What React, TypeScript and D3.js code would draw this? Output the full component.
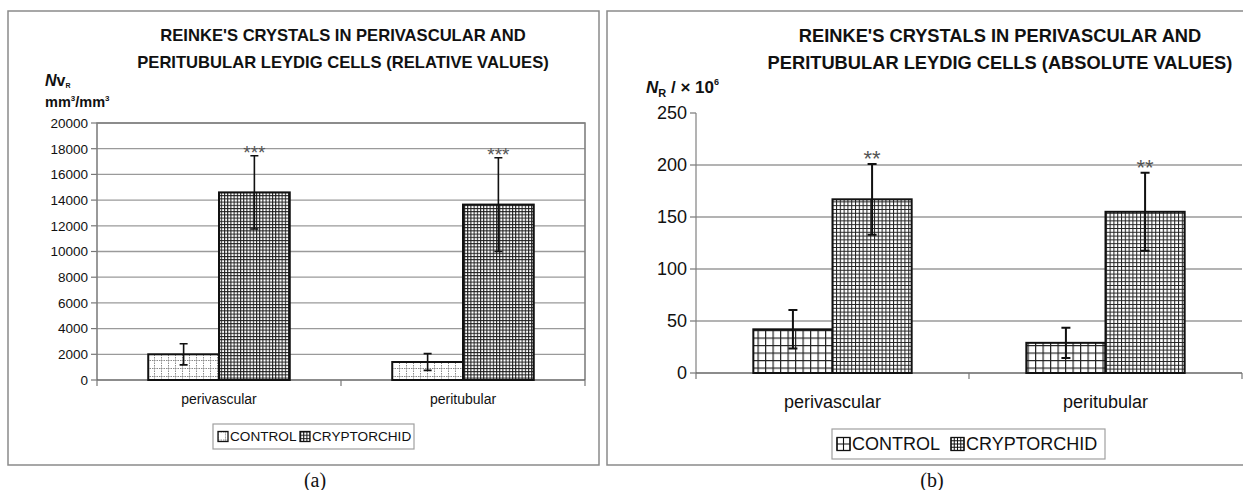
import { scaleBand, scaleLinear } from "d3";

const categories = ["perivascular", "peritubular"];
const seriesNames = ["CONTROL", "CRYPTORCHID"];

// (a) relative values, Nv_R mm3/mm3
const relativeControl = [2000, 1400];
const relativeControlErr = [820, 650];
const relativeCryptorchid = [14600, 13650];
const relativeCryptorchidErr = [2850, 3650];
const relativeStars = ["***", "***"];
const relativeTicks = [0, 2000, 4000, 6000, 8000, 10000, 12000, 14000, 16000, 18000, 20000];

// (b) absolute values, N_R x 10^6
const absoluteControl = [42, 29];
const absoluteControlErr = [18.5, 14.5];
const absoluteCryptorchid = [167, 155];
const absoluteCryptorchidErr = [34, 37.5];
const absoluteStars = ["**", "**"];
const absoluteTicks = [0, 50, 100, 150, 200, 250];

const sans = "'Liberation Sans', Arial, sans-serif";
const serif = "'Liberation Serif', 'Times New Roman', serif";

type PanelProps = {
  frame: { x: number; y: number; w: number; h: number };
  title: string[];
  titleX: number;
  titleY: number[];
  titleSize: number;
  plot: { left: number; right: number; top: number; bottom: number };
  ticks: number[];
  tickSize: number;
  labelSize: number;
  labelY: number;
  values: number[][];
  errors: number[][];
  stars: string[];
  starSize: number;
  starOffset: number;
  fills: string[];
  boxed: boolean;
  capWidth: number;
  errWidth: number;
  legend: { x: number; y: number; w: number; h: number; size: number; icon: number; offset: number };
  caption: string;
  captionX: number;
  yLabel: React.ReactNode;
  icons: (size: number) => React.ReactNode[];
};

function Panel(p: PanelProps) {
  const { plot } = p;
  const x0 = scaleBand<string>()
    .domain(categories)
    .range([plot.left, plot.right])
    .paddingInner(0.42)
    .paddingOuter(0.21);
  const x1 = scaleBand<string>().domain(seriesNames).range([0, x0.bandwidth()]);
  const y = scaleLinear()
    .domain([0, p.ticks[p.ticks.length - 1]])
    .range([plot.bottom, plot.top]);
  const step = x0.step();
  const bounds = [0, 1, 2].map((i) => plot.left + i * step);

  return (
    <g>
      <rect
        x={p.frame.x}
        y={p.frame.y}
        width={p.frame.w}
        height={p.frame.h}
        fill="#fff"
        stroke="#8a8a8a"
        strokeWidth={1.5}
      />
      {p.title.map((t, i) => (
        <text
          key={t}
          x={p.titleX}
          y={p.titleY[i]}
          textAnchor="middle"
          fontFamily={sans}
          fontWeight="bold"
          fontSize={p.titleSize}
          fill="#111"
        >
          {t}
        </text>
      ))}
      {p.yLabel}
      {p.ticks.map((t) => (
        <g key={`tick-${t}`}>
          {t > 0 && (p.boxed || t < p.ticks[p.ticks.length - 1]) ? (
            <line
              x1={plot.left}
              x2={plot.right}
              y1={y(t)}
              y2={y(t)}
              stroke="#9a9a9a"
              strokeWidth={1.3}
            />
          ) : null}
          <line
            x1={plot.left - 6}
            x2={plot.left}
            y1={y(t)}
            y2={y(t)}
            stroke="#777"
            strokeWidth={1.2}
          />
          <text
            x={plot.left - 9}
            y={y(t) + p.tickSize * 0.36}
            textAnchor="end"
            fontFamily={sans}
            fontSize={p.tickSize}
            fill="#111"
          >
            {t}
          </text>
        </g>
      ))}
      {p.boxed ? (
        <path
          d={`M${plot.left},${plot.bottom}V${plot.top}H${plot.right}V${plot.bottom}`}
          fill="none"
          stroke="#808080"
          strokeWidth={1.6}
        />
      ) : (
        <line
          x1={plot.left}
          x2={plot.left}
          y1={plot.top}
          y2={plot.bottom}
          stroke="#808080"
          strokeWidth={1.2}
        />
      )}
      <line
        x1={plot.left}
        x2={plot.right}
        y1={plot.bottom}
        y2={plot.bottom}
        stroke="#666"
        strokeWidth={1.4}
      />
      {bounds.map((bx) => (
        <line
          key={`xt-${bx}`}
          x1={bx}
          x2={bx}
          y1={plot.bottom}
          y2={plot.bottom + 6}
          stroke="#777"
          strokeWidth={1.2}
        />
      ))}
      {categories.map((c, ci) => {
        const gx = x0(c) ?? 0;
        return (
          <g key={c}>
            {seriesNames.map((s, si) => {
              const v = p.values[si][ci];
              const e = p.errors[si][ci];
              const bx = gx + (x1(s) ?? 0);
              const bw = x1.bandwidth();
              const cx = bx + bw / 2;
              return (
                <g key={s}>
                  <rect
                    x={bx}
                    y={y(v)}
                    width={bw}
                    height={y(0) - y(v)}
                    fill={`url(#${p.fills[si]})`}
                    stroke="#111"
                    strokeWidth={2}
                  />
                  <path
                    d={`M${cx - p.capWidth / 2},${y(v + e)}H${cx + p.capWidth / 2}M${cx},${y(v + e)}V${y(v - e)}M${cx - p.capWidth / 2},${y(v - e)}H${cx + p.capWidth / 2}`}
                    fill="none"
                    stroke="#111"
                    strokeWidth={p.errWidth}
                  />
                  {si === 1 ? (
                    <text
                      x={cx}
                      y={y(v + e) + p.starOffset}
                      textAnchor="middle"
                      fontFamily={sans}
                      fontSize={p.starSize}
                      fill="#555"
                    >
                      {p.stars[ci]}
                    </text>
                  ) : null}
                </g>
              );
            })}
            <text
              x={gx + x0.bandwidth() / 2}
              y={p.labelY}
              textAnchor="middle"
              fontFamily={sans}
              fontSize={p.labelSize}
              fill="#111"
            >
              {c}
            </text>
          </g>
        );
      })}
      <rect
        x={p.legend.x}
        y={p.legend.y}
        width={p.legend.w}
        height={p.legend.h}
        fill="#fff"
        stroke="#a0a0a0"
        strokeWidth={1.2}
      />
      {seriesNames.map((s, si) => {
        const ix = p.legend.x + 5 + si * p.legend.offset;
        const iy = p.legend.y + p.legend.h / 2 - p.legend.icon / 2;
        return (
          <g key={`lg-${s}`} transform={`translate(${ix},${iy})`}>
            {p.icons(p.legend.icon)[si]}
            <text
              x={p.legend.icon + 2}
              y={p.legend.icon / 2 + p.legend.size * 0.36}
              fontFamily={sans}
              fontSize={p.legend.size}
              fill="#111"
            >
              {s}
            </text>
          </g>
        );
      })}
      <text
        x={p.captionX}
        y={487}
        textAnchor="middle"
        fontFamily={serif}
        fontSize={20}
        fill="#111"
      >
        {p.caption}
      </text>
    </g>
  );
}

function gridPath(size: number, n: number) {
  let d = "";
  for (let i = 0; i <= n; i++) {
    const t = (size * i) / n;
    d += `M${t},0V${size}M0,${t}H${size}`;
  }
  return d;
}

export default function App() {
  return (
    <svg
      width={1243}
      height={490}
      style={{ position: "absolute", left: 0, top: 0, background: "#fff" }}
    >
      <defs>
        <pattern id="aCtrl" width={7} height={8} patternUnits="userSpaceOnUse">
          <rect width={7} height={8} fill="#fff" />
          <line x1={0.5} y1={0} x2={0.5} y2={8} stroke="#8a8a8a" strokeWidth={1} strokeDasharray="1.5 1" />
          <line x1={0} y1={0.5} x2={7} y2={0.5} stroke="#8a8a8a" strokeWidth={1} strokeDasharray="1.5 1" />
        </pattern>
        <pattern id="aCrypt" width={3.2} height={3.2} patternUnits="userSpaceOnUse">
          <rect width={3.2} height={3.2} fill="#fff" />
          <path d="M0,0.5H3.2M0.5,0V3.2" stroke="#1a1a1a" strokeWidth={1.1} />
        </pattern>
        <pattern id="bCtrl" width={7.5} height={7.5} patternUnits="userSpaceOnUse">
          <rect width={7.5} height={7.5} fill="#fff" />
          <path d="M0,0.6H7.5M0.6,0V7.5" stroke="#222" strokeWidth={1.2} />
        </pattern>
        <pattern id="bCrypt" width={3.8} height={3.8} patternUnits="userSpaceOnUse">
          <rect width={3.8} height={3.8} fill="#fff" />
          <path d="M0,0.5H3.8M0.5,0V3.8" stroke="#222" strokeWidth={1.1} />
        </pattern>
      </defs>
      <rect width={1243} height={490} fill="#fff" />
      <Panel
        frame={{ x: 8, y: 11, w: 591, h: 454 }}
        title={[
          "REINKE'S CRYSTALS IN PERIVASCULAR AND",
          "PERITUBULAR LEYDIG CELLS (RELATIVE VALUES)"
        ]}
        titleX={343}
        titleY={[41, 68]}
        titleSize={16.6}
        plot={{ left: 97, right: 585, top: 123, bottom: 380 }}
        ticks={relativeTicks}
        tickSize={13.5}
        labelSize={14}
        labelY={404}
        values={[relativeControl, relativeCryptorchid]}
        errors={[relativeControlErr, relativeCryptorchidErr]}
        stars={relativeStars}
        starSize={19}
        starOffset={3}
        fills={["aCtrl", "aCrypt"]}
        boxed={true}
        capWidth={8}
        errWidth={1.6}
        legend={{ x: 213, y: 424, w: 201, h: 25, size: 13.6, icon: 10, offset: 82 }}
        caption="(a)"
        captionX={315}
        yLabel={
          <g fontFamily={sans} fontWeight="bold" fill="#111">
            <text x={45} y={86} fontSize={16}>
              <tspan fontStyle="italic">N</tspan>v
              <tspan fontSize={7} dy={2}>R</tspan>
            </text>
            <text x={45} y={107} fontSize={14.5}>
              mm<tspan fontSize={8} dy={-6}>3</tspan>
              <tspan dy={6}>/mm</tspan>
              <tspan fontSize={8} dy={-6}>3</tspan>
            </text>
          </g>
        }
        icons={(sz) => [
          <rect key="c" width={sz} height={sz} fill="url(#aCtrl)" stroke="#111" strokeWidth={1.3} />,
          <g key="k">
            <rect width={sz} height={sz} fill="url(#aCrypt)" stroke="#111" strokeWidth={1.3} />
          </g>
        ]}
      />
      <Panel
        frame={{ x: 607, y: 11, w: 650, h: 454 }}
        title={[
          "REINKE'S CRYSTALS IN PERIVASCULAR AND",
          "PERITUBULAR LEYDIG CELLS (ABSOLUTE VALUES)"
        ]}
        titleX={1000}
        titleY={[42, 69]}
        titleSize={18.3}
        plot={{ left: 696, right: 1242, top: 113, bottom: 373 }}
        ticks={absoluteTicks}
        tickSize={18}
        labelSize={18}
        labelY={408}
        values={[absoluteControl, absoluteCryptorchid]}
        errors={[absoluteControlErr, absoluteCryptorchidErr]}
        stars={absoluteStars}
        starSize={22}
        starOffset={2}
        fills={["bCtrl", "bCrypt"]}
        boxed={false}
        capWidth={9}
        errWidth={2}
        legend={{ x: 832, y: 429, w: 273, h: 30, size: 18, icon: 13, offset: 114 }}
        caption="(b)"
        captionX={932}
        yLabel={
          <text x={646} y={93} fontFamily={sans} fontWeight="bold" fontSize={17} fill="#111">
            <tspan fontStyle="italic">N</tspan>
            <tspan fontSize={11} dy={4}>R</tspan>
            <tspan dy={-4}> / × 10</tspan>
            <tspan fontSize={9} dy={-8}>6</tspan>
          </text>
        }
        icons={(sz) => [
          <g key="c">
            <rect width={sz} height={sz} fill="#fff" stroke="#111" strokeWidth={1.3} />
            <path d={gridPath(sz, 2)} stroke="#111" strokeWidth={1.1} fill="none" />
          </g>,
          <g key="k">
            <rect width={sz} height={sz} fill="#fff" stroke="#111" strokeWidth={1.3} />
            <path d={gridPath(sz, 4)} stroke="#111" strokeWidth={1} fill="none" />
          </g>
        ]}
      />
    </svg>
  );
}
